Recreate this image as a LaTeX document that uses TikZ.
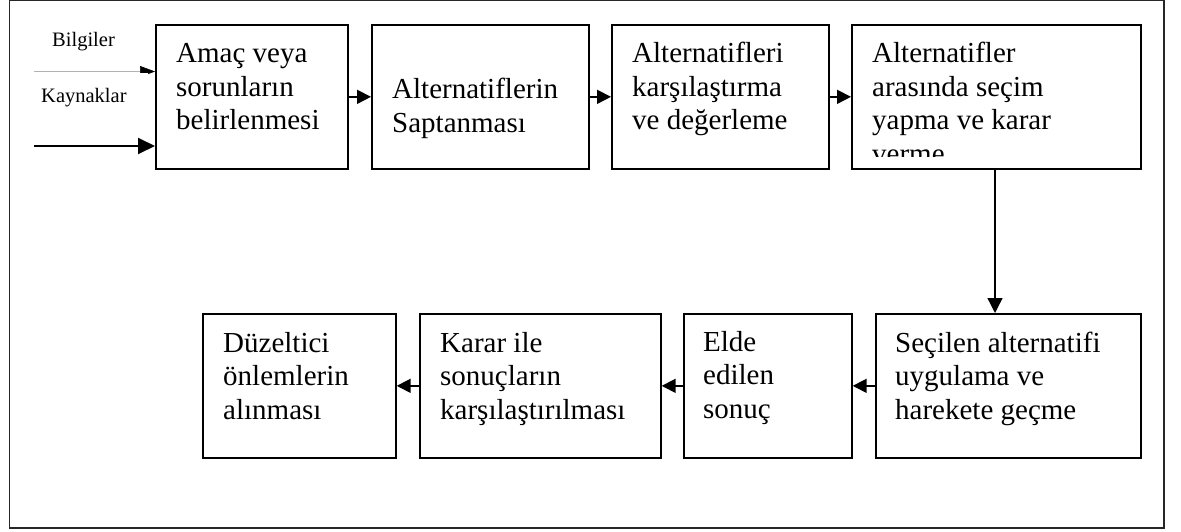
\documentclass[tikz,border=0pt]{standalone}
\usepackage{fontspec}
\setmainfont{Liberation Serif}
\usetikzlibrary{arrows.meta}
\begin{document}
\begin{tikzpicture}[x=1pt,y=-1pt,
  stepbox/.style={draw=black,line width=1.7pt,fill=white,inner sep=0pt,
    anchor=north west,minimum height=144pt},
  boxtext/.style={inner sep=0pt,anchor=base west,
    font=\fontsize{29}{33.5}\selectfont},
  small/.style={inner sep=0pt,anchor=base west,
    font=\fontsize{20.5}{24}\selectfont},
  flow/.style={line width=1.7pt,-{Triangle[length=14pt,width=14pt]}},
]
\useasboundingbox (0,0) rectangle (1181,532);
% outer frame
\draw[line width=1.3pt,black!85] (9.5,0.8) rectangle (1164,528);

% process boxes, top row
\node[stepbox,minimum width=192pt] (b1) at (155,24) {};
\node[stepbox,minimum width=217pt] (b2) at (371,24) {};
\node[stepbox,minimum width=217pt] (b3) at (611,24) {};
\node[stepbox,minimum width=289pt] (b4) at (851,24) {};
% bottom row
\node[stepbox,minimum width=265pt] (b8) at (875,313) {};
\node[stepbox,minimum width=168pt] (b7) at (683,313) {};
\node[stepbox,minimum width=241pt] (b6) at (419,313) {};
\node[stepbox,minimum width=193pt] (b5) at (202,313) {};

% box texts
\node[boxtext] (t1) at (176,63) {\begin{tabular}[t]{@{}l@{}}Amaç veya\\sorunların\\belirlenmesi\end{tabular}};
\node[boxtext] (t2) at (392,99) {\begin{tabular}[t]{@{}l@{}}Alternatiflerin\\Saptanması\end{tabular}};
\node[boxtext] (t3) at (632,63) {\begin{tabular}[t]{@{}l@{}}Alternatifleri\\karşılaştırma\\ve değerleme\end{tabular}};
\begin{scope}
  \clip (b4.north west) rectangle (1140,157);
  \node[boxtext] (t4) at (872,63) {\begin{tabular}[t]{@{}l@{}}Alternatifler\\arasında seçim\\yapma ve karar\\verme\end{tabular}};
\end{scope}
\node[boxtext] (t8) at (895,352) {\begin{tabular}[t]{@{}l@{}}Seçilen alternatifi\\uygulama ve\\harekete geçme\end{tabular}};
\node[boxtext] (t7) at (703,351) {\begin{tabular}[t]{@{}l@{}}Elde\\edilen\\sonuç\end{tabular}};
\node[boxtext] (t6) at (440,352) {\begin{tabular}[t]{@{}l@{}}Karar ile\\sonuçların\\karşılaştırılması\end{tabular}};
\node[boxtext] (t5) at (223,352) {\begin{tabular}[t]{@{}l@{}}Düzeltici\\önlemlerin\\alınması\end{tabular}};

% flow between the steps
\draw[flow] (b1) -- (b2);
\draw[flow] (b2) -- (b3);
\draw[flow] (b3) -- (b4);
\coordinate (down) at (995,0);
\draw[line width=1.4pt,-{Triangle[length=15pt,width=15pt]}] (b4.south -| down) -- (b8.north -| down);
\draw[flow] (b8) -- (b7);
\draw[flow] (b7) -- (b6);
\draw[flow] (b6) -- (b5);

% inputs on the left
\coordinate (inA) at (34,71.5);
\coordinate (inB) at (34,146);
\draw[line width=0.6pt,black!30,-{Triangle[length=15pt,width=11pt,black]}] (inA) -- (b1.west |- inA);
\node[fill=white,inner sep=0pt,anchor=north west,minimum width=118pt,minimum height=44pt] (cover) at (30,72.8) {};
\node[small] (lblA) at (52,47) {Bilgiler};
\node[small] (lblB) at (41,102.7) {Kaynaklar};
\draw[line width=1.9pt,-{Triangle[length=17pt,width=16pt]}] (inB) -- (b1.west |- inB);
\end{tikzpicture}
\end{document}
